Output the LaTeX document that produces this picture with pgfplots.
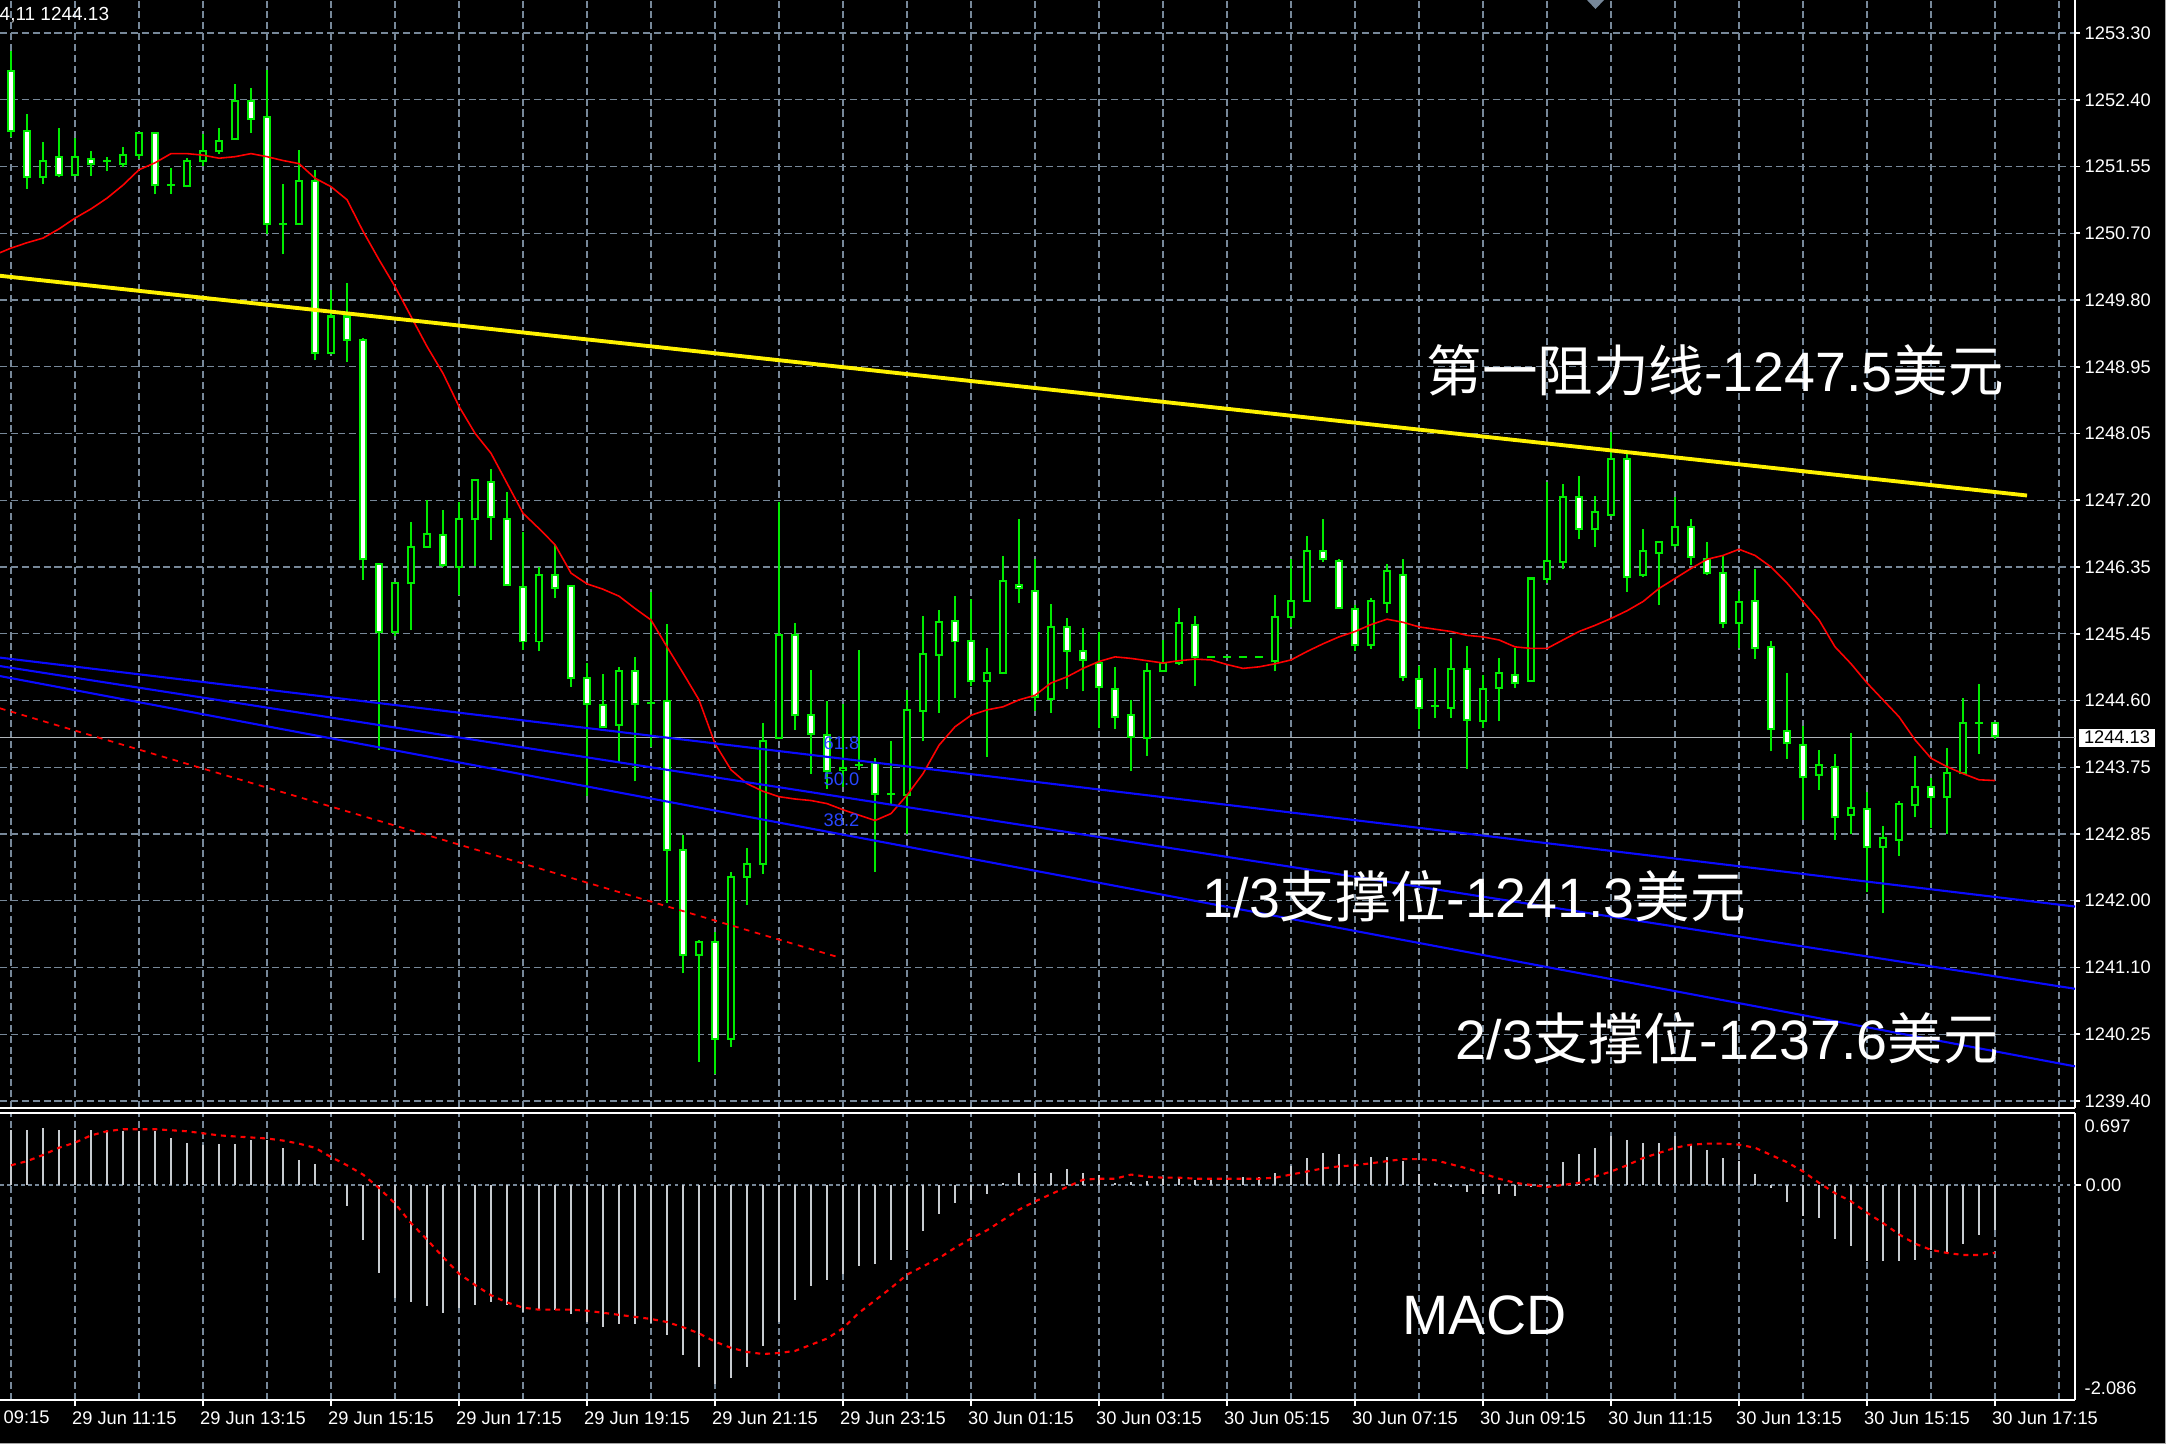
\documentclass[border=0pt]{standalone}
\usepackage{fontspec}
\setmainfont{Liberation Sans}
\newfontfamily\cjk{Noto Sans CJK SC}
\usepackage{pgfplots}
\usepackage{pgfplotstable}
\pgfplotsset{compat=1.18}
\definecolor{mtgreen}{RGB}{0,235,0}
\definecolor{gridc}{RGB}{119,136,153}
\definecolor{histc}{RGB}{200,204,208}
\definecolor{pricel}{RGB}{175,180,185}
\definecolor{fibblue}{RGB}{40,70,255}
\definecolor{lineblue}{RGB}{10,10,255}

% bullish (hollow) candles: index open high low close
\pgfplotstableread{
x o h l c
2 1251.43 1251.88 1251.34 1251.64
4 1251.45 1251.93 1251.45 1251.69
6 1251.63 1251.69 1251.50 1251.63
7 1251.60 1251.82 1251.55 1251.71
8 1251.71 1252.00 1251.66 1252.00
10 1251.32 1251.54 1251.21 1251.32
11 1251.31 1251.67 1251.29 1251.64
12 1251.63 1251.99 1251.57 1251.77
13 1251.76 1252.06 1251.73 1251.90
14 1251.92 1252.64 1251.92 1252.42
17 1250.82 1251.34 1250.42 1250.82
18 1250.82 1251.78 1250.82 1251.38
20 1249.14 1249.96 1249.14 1249.61
24 1245.51 1246.14 1245.45 1246.14
25 1246.14 1246.94 1245.53 1246.61
26 1246.61 1247.22 1246.61 1246.78
28 1246.35 1247.20 1245.99 1246.98
29 1246.97 1247.50 1246.36 1247.48
33 1245.38 1246.35 1245.25 1246.24
38 1244.29 1245.05 1243.80 1245.00
40 1244.58 1246.02 1244.01 1244.58
43 1241.30 1241.50 1239.91 1241.47
45 1240.21 1242.38 1240.10 1242.32
46 1242.32 1242.69 1241.95 1242.49
47 1242.49 1244.32 1242.36 1244.09
48 1244.12 1247.20 1244.12 1245.47
52 1243.71 1244.57 1243.48 1243.74
53 1243.77 1245.27 1243.71 1243.77
55 1243.39 1244.08 1243.25 1243.39
56 1243.38 1244.75 1242.88 1244.49
57 1244.48 1245.71 1244.08 1245.22
58 1245.20 1245.79 1244.45 1245.63
61 1244.87 1245.29 1243.88 1244.97
62 1244.97 1246.49 1244.97 1246.17
65 1244.63 1245.87 1244.45 1245.57
71 1244.12 1245.10 1243.89 1245.00
72 1244.99 1245.40 1244.99 1245.10
73 1245.10 1245.81 1245.07 1245.62
75 1245.18 1245.18 1245.18 1245.18
76 1245.18 1245.18 1245.18 1245.18
77 1245.18 1245.18 1245.18 1245.18
78 1245.18 1245.18 1245.18 1245.18
79 1245.12 1245.99 1244.99 1245.70
80 1245.70 1246.46 1245.57 1245.91
81 1245.91 1246.75 1245.91 1246.56
85 1245.33 1245.94 1245.28 1245.91
86 1245.88 1246.39 1245.75 1246.30
89 1244.54 1245.03 1244.39 1244.54
90 1244.52 1245.42 1244.39 1245.02
92 1244.35 1244.94 1244.26 1244.76
93 1244.78 1245.16 1244.34 1244.97
95 1244.87 1246.20 1244.87 1246.20
96 1246.19 1247.46 1246.14 1246.43
97 1246.42 1247.43 1246.32 1247.26
99 1246.84 1247.27 1246.61 1247.06
100 1247.03 1248.11 1247.03 1247.76
102 1246.25 1246.85 1246.22 1246.56
103 1246.53 1246.69 1245.85 1246.67
104 1246.63 1247.26 1246.61 1246.87
108 1245.62 1246.04 1245.29 1245.89
113 1243.64 1243.97 1243.45 1243.77
115 1243.12 1244.19 1242.87 1243.21
117 1242.71 1242.98 1241.84 1242.82
118 1242.80 1243.30 1242.59 1243.26
119 1243.25 1243.89 1243.09 1243.49
121 1243.35 1243.99 1242.88 1243.67
122 1243.67 1244.64 1243.67 1244.32
123 1244.32 1244.83 1243.92 1244.32
}\bull

% bearish (white) candles
\pgfplotstableread{
x o h l c
0 1252.81 1253.06 1251.94 1252.03
1 1252.03 1252.25 1251.27 1251.43
3 1251.69 1252.06 1251.42 1251.45
5 1251.66 1251.77 1251.44 1251.59
9 1252.00 1252.00 1251.21 1251.32
15 1252.42 1252.58 1252.00 1252.18
16 1252.21 1252.82 1250.69 1250.82
19 1251.38 1251.52 1249.04 1249.14
21 1249.61 1250.05 1249.02 1249.31
22 1249.30 1249.33 1246.18 1246.45
23 1246.39 1246.39 1243.97 1245.51
27 1246.77 1247.09 1246.35 1246.38
30 1247.45 1247.63 1246.70 1247.00
31 1246.98 1247.33 1246.11 1246.11
32 1246.09 1246.81 1245.27 1245.38
34 1246.24 1246.64 1245.94 1246.08
35 1246.10 1246.10 1244.79 1244.90
36 1244.90 1245.10 1243.37 1244.57
37 1244.55 1244.96 1244.27 1244.27
39 1245.00 1245.18 1243.56 1244.57
41 1244.60 1245.61 1241.98 1242.67
42 1242.67 1242.86 1241.06 1241.30
44 1241.47 1241.60 1239.75 1240.21
49 1245.47 1245.62 1244.23 1244.42
50 1244.42 1245.01 1243.66 1244.18
51 1244.16 1244.60 1243.46 1243.70
54 1243.80 1243.86 1242.38 1243.40
59 1245.65 1245.97 1244.64 1245.38
60 1245.39 1245.93 1244.80 1244.86
63 1246.12 1246.98 1245.88 1246.07
64 1246.04 1246.46 1244.47 1244.66
66 1245.57 1245.68 1244.76 1245.26
67 1245.26 1245.55 1244.73 1245.14
68 1245.10 1245.50 1244.25 1244.79
69 1244.76 1245.05 1244.24 1244.40
70 1244.42 1244.62 1243.69 1244.14
74 1245.59 1245.71 1244.80 1245.18
82 1246.56 1246.98 1246.41 1246.46
83 1246.43 1246.46 1245.81 1245.81
84 1245.80 1245.85 1245.25 1245.34
87 1246.25 1246.46 1244.86 1244.92
88 1244.89 1245.06 1244.24 1244.52
91 1245.02 1245.32 1243.72 1244.36
94 1244.94 1245.29 1244.78 1244.84
98 1247.26 1247.53 1246.71 1246.85
101 1247.76 1247.85 1246.03 1246.22
105 1246.87 1246.98 1246.38 1246.48
106 1246.45 1246.67 1246.25 1246.27
107 1246.27 1246.51 1245.56 1245.62
109 1245.91 1246.33 1245.15 1245.30
110 1245.31 1245.39 1243.95 1244.24
111 1244.22 1244.97 1243.85 1244.06
112 1244.03 1244.28 1243.06 1243.61
114 1243.75 1243.92 1242.80 1243.09
116 1243.20 1243.42 1242.12 1242.71
120 1243.48 1243.60 1242.95 1243.36
124 1244.32 1244.32 1244.11 1244.15
}\bear

% moving average
\pgfplotstableread{
x y
-0.69 1250.44
0 1250.50
1 1250.57
2 1250.63
3 1250.75
4 1250.89
5 1251.01
6 1251.15
7 1251.32
8 1251.52
9 1251.61
10 1251.73
11 1251.73
12 1251.71
13 1251.67
14 1251.69
15 1251.73
16 1251.69
17 1251.64
18 1251.60
19 1251.41
20 1251.30
21 1251.13
22 1250.72
23 1250.35
24 1250.00
25 1249.61
26 1249.22
27 1248.87
28 1248.44
29 1248.09
30 1247.83
31 1247.44
32 1247.05
33 1246.85
34 1246.64
35 1246.27
36 1246.13
37 1246.06
38 1245.97
39 1245.81
40 1245.66
41 1245.31
42 1244.97
43 1244.62
44 1244.05
45 1243.71
46 1243.53
47 1243.43
48 1243.36
49 1243.33
50 1243.31
51 1243.27
52 1243.19
53 1243.12
54 1243.05
55 1243.14
56 1243.38
57 1243.66
58 1244.03
59 1244.27
60 1244.42
61 1244.49
62 1244.53
63 1244.62
64 1244.68
65 1244.84
66 1244.92
67 1245.03
68 1245.12
69 1245.18
70 1245.16
71 1245.13
72 1245.10
73 1245.13
74 1245.15
75 1245.14
76 1245.08
77 1245.03
78 1245.05
79 1245.09
80 1245.14
81 1245.25
82 1245.35
83 1245.44
84 1245.51
85 1245.60
86 1245.67
87 1245.63
88 1245.57
89 1245.54
90 1245.51
91 1245.46
92 1245.44
93 1245.40
94 1245.31
95 1245.29
96 1245.29
97 1245.40
98 1245.51
99 1245.59
100 1245.68
101 1245.78
102 1245.90
103 1246.07
104 1246.20
105 1246.33
106 1246.45
107 1246.50
108 1246.58
109 1246.50
110 1246.35
111 1246.14
112 1245.90
113 1245.66
114 1245.31
115 1245.09
116 1244.84
117 1244.62
118 1244.40
119 1244.10
120 1243.86
121 1243.75
122 1243.66
123 1243.58
124 1243.57
}\ma

% MACD histogram (h) and signal (s)
\pgfplotstableread{
x h s
0 0.53 0.19
1 0.53 0.23
2 0.55 0.29
3 0.53 0.36
4 0.53 0.41
5 0.53 0.48
6 0.53 0.52
7 0.52 0.54
8 0.52 0.54
9 0.52 0.54
10 0.45 0.53
11 0.41 0.52
12 0.39 0.50
13 0.40 0.48
14 0.40 0.47
15 0.44 0.46
16 0.44 0.45
17 0.36 0.43
18 0.24 0.40
19 0.20 0.36
20 0.00 0.27
21 -0.20 0.19
22 -0.53 0.10
23 -0.85 -0.03
24 -1.10 -0.18
25 -1.14 -0.37
26 -1.17 -0.53
27 -1.24 -0.70
28 -1.19 -0.86
29 -1.16 -0.97
30 -1.14 -1.07
31 -1.16 -1.14
32 -1.23 -1.19
33 -1.21 -1.21
34 -1.21 -1.21
35 -1.25 -1.21
36 -1.33 -1.22
37 -1.38 -1.24
38 -1.35 -1.26
39 -1.35 -1.28
40 -1.34 -1.30
41 -1.46 -1.33
42 -1.65 -1.38
43 -1.77 -1.44
44 -1.93 -1.52
45 -1.87 -1.58
46 -1.77 -1.62
47 -1.56 -1.64
48 -1.33 -1.63
49 -1.12 -1.61
50 -0.98 -1.55
51 -0.92 -1.49
52 -0.86 -1.39
53 -0.79 -1.24
54 -0.77 -1.12
55 -0.73 -1.00
56 -0.63 -0.87
57 -0.45 -0.79
58 -0.28 -0.71
59 -0.18 -0.61
60 -0.15 -0.52
61 -0.09 -0.44
62 0.02 -0.34
63 0.12 -0.24
64 0.12 -0.16
65 0.12 -0.09
66 0.15 -0.02
67 0.12 0.05
68 0.10 0.06
69 0.02 0.06
70 0.03 0.10
71 0.04 0.08
72 0.06 0.07
73 0.08 0.07
74 0.05 0.06
75 0.06 0.06
76 0.05 0.06
77 0.08 0.06
78 0.08 0.06
79 0.12 0.07
80 0.18 0.10
81 0.26 0.13
82 0.31 0.16
83 0.30 0.18
84 0.24 0.19
85 0.27 0.21
86 0.27 0.23
87 0.23 0.25
88 0.11 0.25
89 0.02 0.24
90 -0.02 0.20
91 -0.07 0.16
92 -0.09 0.11
93 -0.09 0.06
94 -0.11 0.02
95 -0.02 0.00
96 -0.02 -0.02
97 0.22 0.00
98 0.30 0.02
99 0.36 0.08
100 0.47 0.13
101 0.44 0.19
102 0.41 0.26
103 0.41 0.31
104 0.47 0.36
105 0.39 0.39
106 0.34 0.40
107 0.26 0.40
108 0.23 0.39
109 0.11 0.36
110 -0.03 0.29
111 -0.17 0.22
112 -0.30 0.13
113 -0.32 0.02
114 -0.52 -0.08
115 -0.59 -0.16
116 -0.74 -0.27
117 -0.74 -0.37
118 -0.74 -0.48
119 -0.73 -0.57
120 -0.63 -0.63
121 -0.66 -0.66
122 -0.57 -0.68
123 -0.49 -0.68
124 -0.44 -0.66
}\macd

\begin{document}
\begin{tikzpicture}[x=1cm,y=1cm]
\useasboundingbox (0,0) rectangle (21.66,-14.44);
\fill[black] (0,0) rectangle (21.66,-14.44);

\begin{axis}[
  at={(0,0)}, anchor=north west,
  scale only axis, width=20.75cm, height=11.08cm,
  xmin=-0.6875, xmax=129, ymin=1239.308, ymax=1253.7295,
  axis x line*=bottom, axis y line*=right,
  axis line style={white, line width=0.6pt},
  xtick={4,12,...,124}, minor xtick={0,8,...,128}, xticklabels={},
  xtick style={draw=none},
  ytick={1253.30,1252.43125,1251.5625,1250.69375,1249.825,1248.95625,1248.0875,1247.21875,1246.35,1245.48125,1244.6125,1243.74375,1242.875,1242.00625,1241.1375,1240.26875,1239.40},
  yticklabels={1253.30,1252.40,1251.55,1250.70,1249.80,1248.95,1248.05,1247.20,1246.35,1245.45,1244.60,1243.75,1242.85,1242.00,1241.10,1240.25,1239.40},
  ytick style={white, line width=0.5pt},
  tick align=outside, major tick length=0.05cm, minor tick length=0cm,
  yticklabel style={font=\fontsize{5.2}{6}\selectfont, text=white, anchor=west, inner xsep=0pt, xshift=0.04cm},
  grid=both,
  major grid style={gridc, line width=0.35pt, dash pattern=on 2pt off 1.1pt},
  minor grid style={gridc, line width=0.35pt, dash pattern=on 2pt off 1.1pt},
]
% current price line
\addplot[pricel, line width=0.45pt, forget plot] coordinates {(-0.6875,1244.13) (129,1244.13)};
% wicks
\addplot[draw=none, mark=none, error bars/.cd, y dir=plus, y explicit, error mark=none, error bar style={mtgreen, line width=0.5pt}]
  table[x=x, y=l, y error expr=\thisrow{h}-\thisrow{l}] {\bull};
\addplot[draw=none, mark=none, error bars/.cd, y dir=plus, y explicit, error mark=none, error bar style={mtgreen, line width=0.5pt}]
  table[x=x, y=l, y error expr=\thisrow{h}-\thisrow{l}] {\bear};
% bodies outline
\addplot[draw=none, mark=none, error bars/.cd, y dir=plus, y explicit, error mark=none, error bar style={mtgreen, line width=2.47pt}]
  table[x=x, y expr=\thisrow{o}-0.013, y error expr=\thisrow{c}-\thisrow{o}+0.026] {\bull};
\addplot[draw=none, mark=none, error bars/.cd, y dir=plus, y explicit, error mark=none, error bar style={mtgreen, line width=2.47pt}]
  table[x=x, y expr=\thisrow{c}-0.013, y error expr=\thisrow{o}-\thisrow{c}+0.026] {\bear};
% bodies fill
\addplot[draw=none, mark=none, error bars/.cd, y dir=plus, y explicit, error mark=none, error bar style={black, line width=1.35pt}]
  table[x=x, y expr=\thisrow{o}+0.013, y error expr={max(\thisrow{c}-\thisrow{o}-0.026,0)}] {\bull};
\addplot[draw=none, mark=none, error bars/.cd, y dir=plus, y explicit, error mark=none, error bar style={white, line width=1.35pt}]
  table[x=x, y expr=\thisrow{c}+0.013, y error expr={max(\thisrow{o}-\thisrow{c}-0.026,0)}] {\bear};
% moving average
\addplot[red, line width=0.45pt] table[x=x,y=y] {\ma};
% speed lines
\addplot[lineblue, line width=0.6pt] coordinates {(-0.6875,1245.17) (129,1241.93)};
\addplot[lineblue, line width=0.6pt] coordinates {(-0.6875,1245.06) (129,1240.86)};
\addplot[lineblue, line width=0.6pt] coordinates {(-0.6875,1244.93) (129,1239.85)};
% red dashed trend
\addplot[red, line width=0.5pt, dash pattern=on 1.6pt off 1.6pt] coordinates {(-0.6875,1244.51) (51.56,1241.28)};
% yellow resistance
\addplot[yellow, line width=1.1pt] coordinates {(-0.6875,1250.14) (126.0,1247.28)};
% fib labels
\node[anchor=west, inner sep=0pt, text=fibblue, font=\fontsize{5.2}{6}\selectfont] at (axis cs:50.75,1244.05) {61.8};
\node[anchor=west, inner sep=0pt, text=fibblue, font=\fontsize{5.2}{6}\selectfont] at (axis cs:50.75,1243.59) {50.0};
\node[anchor=west, inner sep=0pt, text=fibblue, font=\fontsize{5.2}{6}\selectfont] at (axis cs:50.75,1243.06) {38.2};
\end{axis}

\begin{axis}[
  at={(0,-11.13cm)}, anchor=north west,
  scale only axis, width=20.75cm, height=2.87cm,
  xmin=-0.6875, xmax=129, ymin=-2.086, ymax=0.697,
  axis x line*=bottom, axis y line*=right,
  axis line style={white, line width=0.6pt},
  xtick={4,12,...,124}, minor xtick={0,8,...,128},
  xticklabels={29 Jun 11:15,29 Jun 13:15,29 Jun 15:15,29 Jun 17:15,29 Jun 19:15,29 Jun 21:15,29 Jun 23:15,30 Jun 01:15,30 Jun 03:15,30 Jun 05:15,30 Jun 07:15,30 Jun 09:15,30 Jun 11:15,30 Jun 13:15,30 Jun 15:15,30 Jun 17:15},
  xticklabel style={font=\fontsize{5.2}{6}\selectfont, text=white, anchor=west, inner xsep=0pt, yshift=-0.12cm, xshift=-0.035cm},
  xtick style={white, line width=0.5pt},
  ytick={0}, yticklabels={0.00},
  ytick style={white, line width=0.5pt},
  yticklabel style={font=\fontsize{5.2}{6}\selectfont, text=white, anchor=west, inner xsep=0pt, xshift=0.04cm},
  tick align=outside, major tick length=0.06cm, minor tick length=0cm,
  xmajorgrids=true, xminorgrids=true,
  major grid style={gridc, line width=0.35pt, dash pattern=on 2pt off 1.1pt},
  minor grid style={gridc, line width=0.35pt, dash pattern=on 2pt off 1.1pt},
]
\addplot[gridc, line width=0.4pt, dash pattern=on 1pt off 1pt, forget plot] coordinates {(-0.6875,0) (129,0)};
\addplot[ycomb, histc, line width=0.55pt, mark=none] table[x=x,y=h] {\macd};
\addplot[red, line width=0.6pt, dash pattern=on 1.4pt off 1.4pt] table[x=x,y=s] {\macd};
\end{axis}

% panel separator
\draw[white, line width=0.6pt] (0,-11.13) -- (20.75,-11.13);
% outer border
\draw[gray!70, line width=0.4pt] (21.655,0) -- (21.655,-14.435) -- (0,-14.435);

% texts
\node[anchor=west, inner sep=0pt, text=white, font=\fontsize{5.4}{6}\selectfont] at (-0.01,-0.15) {4,11 1244.13};
\node[anchor=west, inner sep=0pt, text=white, font=\fontsize{5.2}{6}\selectfont] at (0.03,-14.175) {09:15};
\node[anchor=west, fill=white, text=black, inner xsep=1.5pt, inner ysep=0pt, minimum height=0.18cm, font=\fontsize{5.2}{6}\selectfont] at (20.78,-7.375) {1244.13};
\node[anchor=west, inner sep=0pt, text=white, font=\fontsize{5.2}{6}\selectfont] at (20.84,-11.26) {0.697};
\node[anchor=west, inner sep=0pt, text=white, font=\fontsize{5.2}{6}\selectfont] at (20.84,-13.88) {-2.086};
\fill[gridc] (15.87,0) -- (16.04,0) -- (15.955,-0.09) -- cycle;

\node[anchor=west, inner sep=0pt, text=white, font=\fontsize{15.8}{19}\selectfont] at (14.26,-3.70) {{\cjk 第一阻力线}-1247.5{\cjk 美元}};
\node[anchor=west, inner sep=0pt, text=white, font=\fontsize{15.8}{19}\selectfont] at (12.02,-8.96) {1/3{\cjk 支撑位}-1241.3{\cjk 美元}};
\node[anchor=west, inner sep=0pt, text=white, font=\fontsize{15.8}{19}\selectfont] at (14.55,-10.38) {2/3{\cjk 支撑位}-1237.6{\cjk 美元}};
\node[anchor=west, inner sep=0pt, text=white, font=\fontsize{15.8}{19}\selectfont] at (14.02,-13.15) {MACD};
\end{tikzpicture}
\end{document}
